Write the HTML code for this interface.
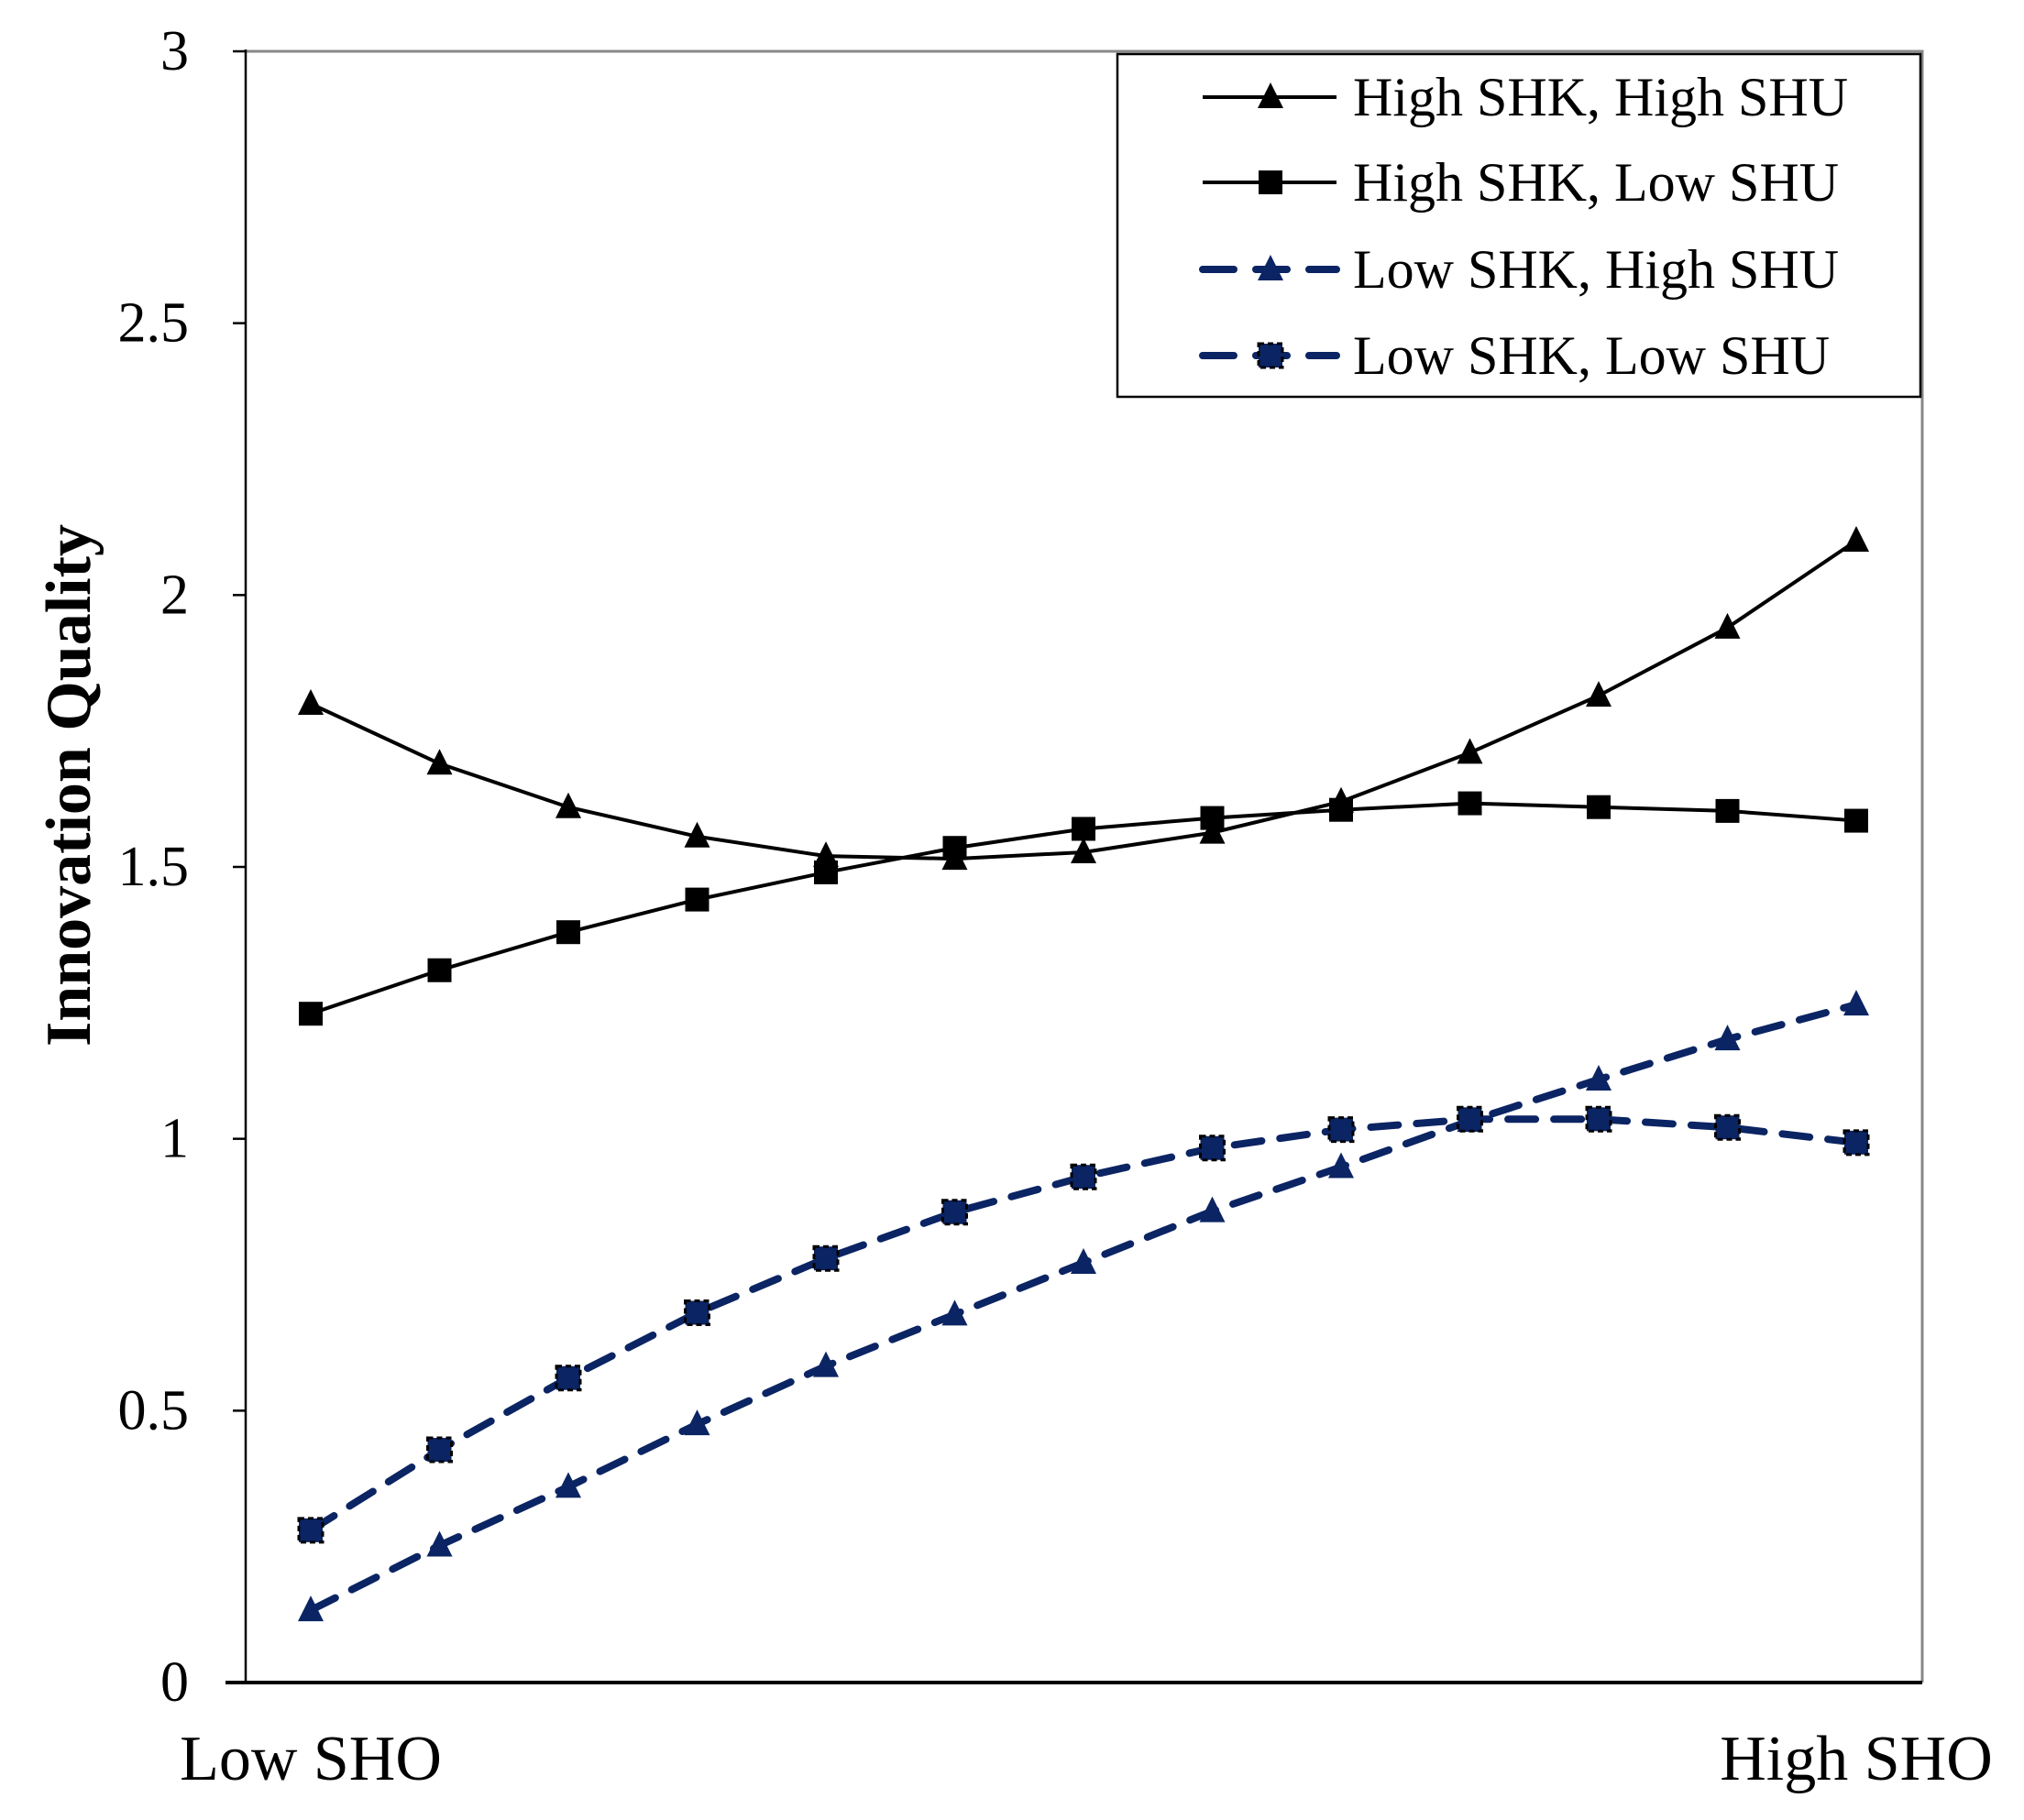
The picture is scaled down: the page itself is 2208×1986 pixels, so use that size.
<!DOCTYPE html>
<html><head><meta charset="utf-8"><style>
html,body{margin:0;padding:0;background:#fff}
svg{display:block}
text{font-family:"Liberation Serif",serif;fill:#000}
</style></head><body>
<svg id="chart" width="2208" height="1986" viewBox="0 0 2208 1986" xmlns="http://www.w3.org/2000/svg">
<g id="axes"></g><g id="series"></g><g id="legend"></g>
</svg>
<script>
const categories = [0,1,2,3,4,5,6,7,8,9,10,11,12];
const yTicks = [0,0.5,1,1.5,2,2.5,3];
const yTickLabels = ["0","0.5","1","1.5","2","2.5","3"];
const highHigh = [1.80,1.69,1.61,1.556,1.52,1.515,1.527,1.563,1.62,1.71,1.815,1.94,2.10];
const highLow = [1.23,1.31,1.38,1.44,1.49,1.535,1.57,1.59,1.605,1.617,1.61,1.603,1.585];
const lowHigh = [0.133,0.252,0.36,0.475,0.582,0.677,0.772,0.867,0.948,1.033,1.109,1.183,1.247];
const lowLow = [0.28,0.428,0.56,0.68,0.78,0.865,0.93,0.983,1.017,1.036,1.036,1.021,0.993];
const seriesNames = ["High SHK, High SHU","High SHK, Low SHU","Low SHK, High SHU","Low SHK, Low SHU"];

const NS="http://www.w3.org/2000/svg";
const L=268,R=2097,T=56,B=1836;
const X0=339,X1=2025;
function xs(i){return X0+(X1-X0)*i/(categories.length-1);}
function ys(v){return B-(B-T)*v/3;}
function mk(tag,attrs,parent){const e=document.createElementNS(NS,tag);for(const k in attrs)e.setAttribute(k,attrs[k]);parent.appendChild(e);return e;}
const axes=document.getElementById('axes'),ser=document.getElementById('series'),leg=document.getElementById('legend');

let fr=mk('path',{d:`M${L},${T} H${R} V${B}`,fill:'none',stroke:'#888','stroke-width':3},axes);

let ya=mk('line',{x1:L,y1:T-2,x2:L,y2:B,stroke:'#000','stroke-width':2.5},axes);

let xa=mk('line',{x1:L-22,y1:B,x2:R,y2:B,stroke:'#000','stroke-width':4},axes);

yTicks.forEach((v,i)=>{
  let t=mk('line',{x1:L-14,y1:ys(v),x2:L,y2:ys(v),stroke:'#000','stroke-width':2.5},axes);
  
  let tx=mk('text',{x:206,y:ys(v)+20,'text-anchor':'end','font-size':62},axes);
  tx.textContent=yTickLabels[i];
  
});
let yt=mk('text',{x:0,y:0,transform:`translate(98,857) rotate(-90)`,'text-anchor':'middle','font-size':70,'font-weight':'bold'},axes);
yt.textContent='Innovation Quality';
let xl=mk('text',{x:X0,y:1942,'text-anchor':'middle','font-size':70},axes);
xl.textContent='Low SHO';
let xh=mk('text',{x:X1,y:1942,'text-anchor':'middle','font-size':70},axes);
xh.textContent='High SHO';

function tri(x,y,c,p){let e=mk('path',{d:`M${x},${y-16} L${x+14},${y+12} L${x-14},${y+12} Z`,fill:c},p);return e;}
function sq(x,y,c,p,stroke){let e=mk('rect',{x:x-13,y:y-13,width:26,height:26,fill:c},p);if(stroke){e.setAttribute('stroke','#000');e.setAttribute('stroke-width',3);e.setAttribute('stroke-dasharray','6 4');}return e;}
const NAVY='#0b2463';
const defs=[
 {data:highHigh,color:'#000',w:4,dash:null,m:'tri',name:'series-high-shk-high-shu'},
 {data:highLow,color:'#000',w:4,dash:null,m:'sq',name:'series-high-shk-low-shu'},
 {data:lowHigh,color:NAVY,w:8,dash:'30 20',m:'tri',name:'series-low-shk-high-shu'},
 {data:lowLow,color:NAVY,w:8,dash:'30 20',m:'sq2',name:'series-low-shk-low-shu'}
];
defs.forEach((s,si)=>{
  const g=mk('g',{},ser);
  
  const pts=s.data.map((v,i)=>`${xs(i)},${ys(v)}`).join(' ');
  const pl=mk('polyline',{points:pts,fill:'none',stroke:s.color,'stroke-width':s.w,'stroke-linecap':s.dash?'round':'butt','stroke-linejoin':'round'},g);
  if(s.dash)pl.setAttribute('stroke-dasharray',s.dash);
  
  s.data.forEach((v,i)=>{
    let m=s.m==='tri'?tri(xs(i),ys(v),s.color,g):sq(xs(i),ys(v),s.color,g,s.m==='sq2');
    
  });
  const ly=[106,199,294,388][si];
  const lg=mk('g',{},leg);
  
  let ln=mk('line',{x1:1312,y1:ly,x2:1458,y2:ly,stroke:s.color,'stroke-width':s.w,'stroke-linecap':s.dash?'round':'butt'},lg);
  if(s.dash)ln.setAttribute('stroke-dasharray','34 24');
  
  let lm=s.m==='tri'?tri(1386,ly,s.color,lg):sq(1386,ly,s.color,lg,s.m==='sq2');
  
  let lt=mk('text',{x:1476,y:ly+20,'font-size':60},lg);
  lt.textContent=seriesNames[si];
  
});
let lb=mk('rect',{x:1219,y:59,width:876,height:374,fill:'none',stroke:'#000','stroke-width':2.5},leg);

leg.insertBefore(mk('rect',{x:1219,y:59,width:876,height:374,fill:'#fff'},leg),leg.firstChild);
</script>
</body></html>
